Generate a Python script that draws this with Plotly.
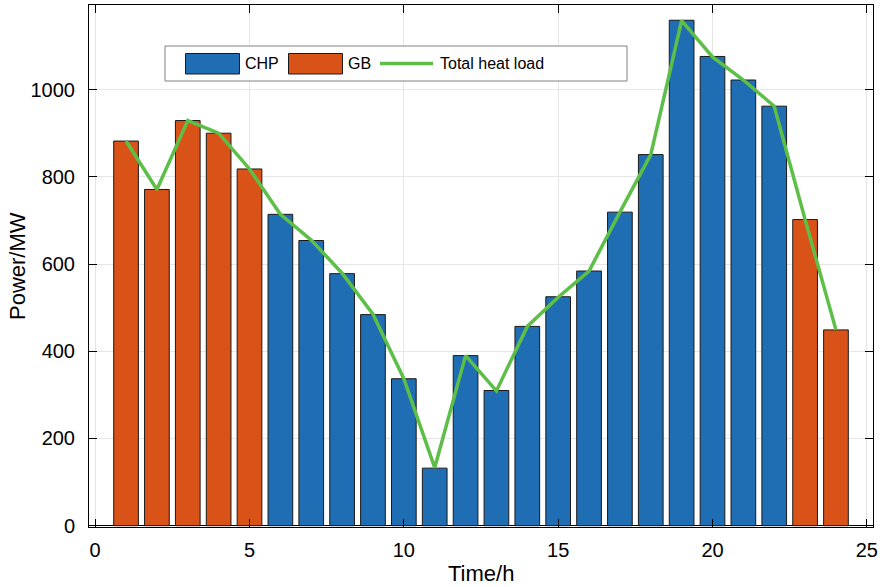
import plotly.graph_objects as go

hours = list(range(1, 25))
chp = [None, None, None, None, None, 714, 654, 578, 484, 337, 132, 390, 310, 457, 525, 584, 719, 851, 1159, 1076, 1022, 962, None, None]
gb = [882, 771, 929, 900, 818, None, None, None, None, None, None, None, None, None, None, None, None, None, None, None, None, None, 702, 449]
total_load = [882, 771, 929, 900, 818, 714, 655, 579, 485, 337, 133, 390, 309, 457, 524, 584, 719, 851, 1158, 1075, 1022, 962, 702, 449]

x_ticks = [0, 5, 10, 15, 20, 25]
y_ticks = [0, 200, 400, 600, 800, 1000]

BLUE = "#1F6EB3"
ORANGE = "#D95319"
GREEN = "#5DBF48"
FONT = "Liberation Sans, Arial, sans-serif"

fig = go.Figure()
fig.add_trace(go.Bar(x=hours, y=chp, name="CHP", width=0.8, showlegend=False,
                     marker=dict(color=BLUE, line=dict(color="#1a1a1a", width=1))))
fig.add_trace(go.Bar(x=hours, y=gb, name="GB", width=0.8, showlegend=False,
                     marker=dict(color=ORANGE, line=dict(color="#1a1a1a", width=1))))
fig.add_trace(go.Scatter(x=hours, y=total_load, mode="lines", name="Total heat load", showlegend=False,
                         line=dict(color=GREEN, width=3.5)))

W, H = 882, 587
ML, MR, MT, MB = 89, 9, 5, 60
PW, PH = W - ML - MR, H - MT - MB


def px(xp):
    return (xp - ML) / PW


def py(yp):
    return (H - MB - yp) / PH


shapes = [
    dict(type="rect", xref="paper", yref="paper", x0=px(165), x1=px(627), y0=py(81), y1=py(46),
         line=dict(color="#808080", width=1), fillcolor="white", layer="above"),
    dict(type="rect", xref="paper", yref="paper", x0=px(185.5), x1=px(239.5), y0=py(74), y1=py(53.5),
         line=dict(color="#1a1a1a", width=1), fillcolor=BLUE, layer="above"),
    dict(type="rect", xref="paper", yref="paper", x0=px(288.5), x1=px(342.5), y0=py(74), y1=py(53.5),
         line=dict(color="#1a1a1a", width=1), fillcolor=ORANGE, layer="above"),
    dict(type="line", xref="paper", yref="paper", x0=px(380), x1=px(433), y0=py(63.5), y1=py(63.5),
         line=dict(color=GREEN, width=3.5), layer="above"),
]
annotations = []
for label, xl in [("CHP", 243), ("GB", 346), ("Total heat load", 438)]:
    annotations.append(dict(text=label, xref="paper", yref="paper", x=px(xl), y=py(64),
                            xanchor="left", yanchor="middle", showarrow=False,
                            font=dict(family=FONT, size=16, color="black")))

# axis titles
annotations.append(dict(text="Time/h", xref="paper", yref="paper", x=px(481), y=py(573),
                        xanchor="center", yanchor="middle", showarrow=False,
                        font=dict(family=FONT, size=22, color="black")))
annotations.append(dict(text="Power/MW", xref="paper", yref="paper", x=px(17), y=py(266),
                        xanchor="center", yanchor="middle", showarrow=False, textangle=-90,
                        font=dict(family=FONT, size=22, color="black")))

axis_common = dict(showline=True, linecolor="black", linewidth=1, mirror="ticks",
                   ticks="inside", ticklen=8, tickcolor="black", tickwidth=1,
                   showgrid=True, gridcolor="#E6E6E6", gridwidth=1, automargin=False,
                   tickfont=dict(family=FONT, size=20, color="black"))

fig.update_layout(
    width=W, height=H,
    margin=dict(l=ML, r=MR, t=MT, b=MB),
    paper_bgcolor="white", plot_bgcolor="white",
    barmode="overlay",
    bargap=0,
    hovermode=False,
    shapes=shapes,
    annotations=annotations,
    xaxis=dict(range=[-0.2, 25.2], tickvals=x_ticks, ticktext=[str(v) for v in x_ticks],
               zeroline=False, ticklabelstandoff=5, **axis_common),
    yaxis=dict(range=[-3, 1194], tickvals=y_ticks, ticktext=[str(v) for v in y_ticks],
               zeroline=True, zerolinecolor="black", zerolinewidth=1, ticklabelstandoff=9,
               **axis_common),
)

fig.write_html("out.html", config={"displayModeBar": False, "staticPlot": True},
               post_script="document.body.style.margin='0';document.body.style.padding='0';document.body.style.overflow='hidden';")
